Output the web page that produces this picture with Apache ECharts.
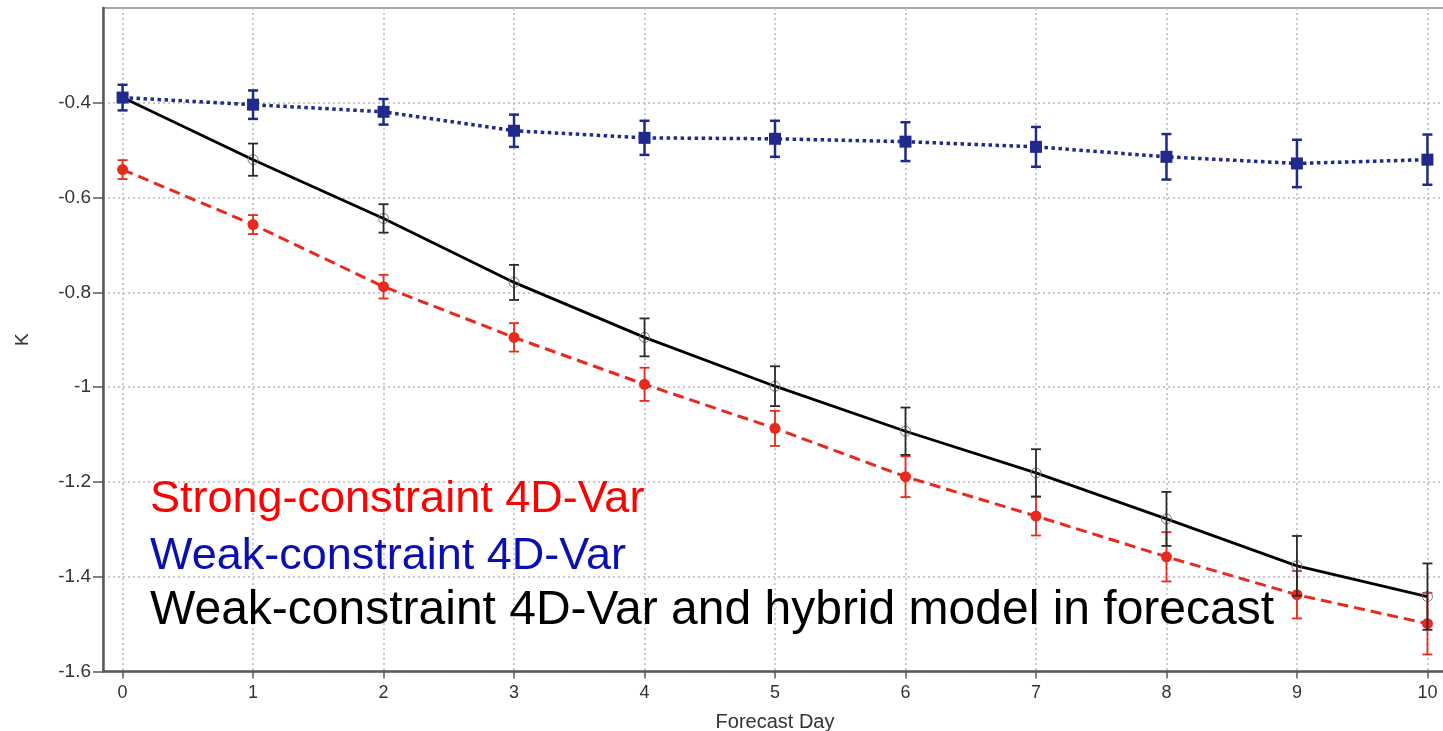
<!DOCTYPE html>
<html>
<head>
<meta charset="utf-8">
<script src="https://cdn.jsdelivr.net/npm/echarts@6/dist/echarts.min.js"></script>
<style>
html,body{margin:0;padding:0;background:#fff;}
#chart{width:1443px;height:731px;}
</style>
</head>
<body>
<div id="chart"></div>
<script>
// ---- data ----
const days = [0, 1, 2, 3, 4, 5, 6, 7, 8, 9, 10];
const xTicks = [0, 1, 2, 3, 4, 5, 6, 7, 8, 9, 10];
const yTicks = [-1.6, -1.4, -1.2, -1, -0.8, -0.6, -0.4];

const strongMean = [-0.541, -0.657, -0.788, -0.895, -0.994, -1.087, -1.189, -1.272, -1.358, -1.438, -1.499];
const strongErr  = [0.02, 0.02, 0.025, 0.03, 0.035, 0.037, 0.043, 0.041, 0.052, 0.05, 0.065];

const weakMean = [-0.389, -0.404, -0.419, -0.459, -0.474, -0.476, -0.482, -0.493, -0.514, -0.528, -0.52];
const weakErr  = [0.027, 0.03, 0.027, 0.034, 0.036, 0.038, 0.041, 0.042, 0.048, 0.05, 0.053];

const hybridMean = [-0.389, -0.52, -0.644, -0.779, -0.895, -0.998, -1.093, -1.181, -1.278, -1.377, -1.442];
const hybridErr  = [0, 0.034, 0.03, 0.037, 0.04, 0.042, 0.05, 0.05, 0.057, 0.063, 0.07];

const legendLabels = [
  'Strong-constraint 4D-Var',
  'Weak-constraint 4D-Var',
  'Weak-constraint 4D-Var and hybrid model in forecast'
];
const legendColors = ['#ff0000', '#0a0fb4', '#000000'];
const legendFontSizes = [45, 45, 48];

// ---- build ----
function pts(mean) { return days.map((d, i) => [d, mean[i]]); }
function bars(mean, err) { return days.map((d, i) => [d, mean[i] - err[i], mean[i] + err[i]]); }

function errorSeries(mean, err, color, width, capHalf, z) {
  return {
    type: 'custom',
    z: z,
    silent: true,
    data: bars(mean, err),
    encode: { x: 0, y: [1, 2] },
    renderItem: function (params, api) {
      const x = api.value(0);
      const lo = api.coord([x, api.value(1)]);
      const hi = api.coord([x, api.value(2)]);
      if (Math.abs(lo[1] - hi[1]) < 0.5) return null;
      const st = { stroke: color, lineWidth: width, fill: null };
      return {
        type: 'group',
        children: [
          { type: 'line', shape: { x1: lo[0], y1: lo[1], x2: hi[0], y2: hi[1] }, style: st },
          { type: 'line', shape: { x1: lo[0] - capHalf, y1: lo[1], x2: lo[0] + capHalf, y2: lo[1] }, style: st },
          { type: 'line', shape: { x1: hi[0] - capHalf, y1: hi[1], x2: hi[0] + capHalf, y2: hi[1] }, style: st }
        ]
      };
    }
  };
}

const FONT = "'Liberation Sans', Arial, Helvetica, sans-serif";
const chart = echarts.init(document.getElementById('chart'), null, { renderer: 'canvas' });

// baselines of legend rows in the picture: 515, 572, 628 -> top = baseline - 0.8465*fontSize
const legendBaselines = [515, 572, 628];

const option = {
  backgroundColor: '#ffffff',
  animation: false,
  grid: {
    left: 103, top: 8, bottom: 59.5, right: -4,
    containLabel: false,
    outerBoundsMode: 'none',
    show: true, borderColor: '#8a8a8a', borderWidth: 1.5, backgroundColor: 'transparent'
  },
  xAxis: {
    type: 'value',
    min: -0.15, max: 10.15,
    name: 'Forecast Day',
    nameLocation: 'middle',
    nameGap: 41,
    nameTextStyle: { fontFamily: FONT, fontSize: 20, color: '#333' },
    axisLine: { show: true, onZero: false, lineStyle: { color: '#5a5a5a', width: 2.5 } },
    axisTick: { show: true, customValues: xTicks, length: 7, lineStyle: { color: '#5a5a5a', width: 1.5 } },
    axisLabel: { customValues: xTicks, fontFamily: FONT, fontSize: 18, color: '#333', margin: 13 },
    splitLine: { show: true, lineStyle: { color: '#b8b8b8', width: 1.5, type: [2, 3] } }
  },
  yAxis: {
    type: 'value',
    min: -1.6, max: -0.2,
    name: 'K',
    nameLocation: 'middle',
    nameGap: 71,
    nameRotate: 90,
    nameTextStyle: { fontFamily: FONT, fontSize: 19, color: '#333' },
    axisLine: { show: true, onZero: false, lineStyle: { color: '#5a5a5a', width: 2.5 } },
    axisTick: { show: true, customValues: yTicks, length: 10, lineStyle: { color: '#5a5a5a', width: 1.5 } },
    axisLabel: { customValues: yTicks, fontFamily: FONT, fontSize: 19, color: '#333', margin: 12 },
    splitLine: { show: true, lineStyle: { color: '#b8b8b8', width: 1.5, type: [2, 3] } }
  },
  series: [
    errorSeries(strongMean, strongErr, '#e8291c', 1.8, 5, 3),
    {
      type: 'line', name: legendLabels[0], data: pts(strongMean), z: 4,
      symbol: 'circle', symbolSize: 11,
      itemStyle: { color: '#e8291c' },
      lineStyle: { color: '#e8291c', width: 3, type: [11, 6] }
    },
    errorSeries(hybridMean, hybridErr, '#2a2a2a', 1.8, 5, 6),
    {
      type: 'line', name: legendLabels[2], data: pts(hybridMean), z: 5,
      symbol: 'circle', symbolSize: 10,
      itemStyle: { color: 'rgba(255,255,255,0)', borderColor: '#777', borderWidth: 1 },
      lineStyle: { color: '#000000', width: 2.8 }
    },
    errorSeries(weakMean, weakErr, '#1f2a8c', 2.5, 5, 9),
    {
      type: 'line', name: legendLabels[1], data: pts(weakMean), z: 10,
      symbol: 'rect', symbolSize: 12,
      itemStyle: { color: '#1f2a8c' },
      lineStyle: { color: '#1f2a8c', width: 3.5, type: [3.5, 3.5] }
    }
  ],
  graphic: legendLabels.map((t, i) => ({
    type: 'text',
    left: 150,
    top: Math.round(legendBaselines[i] - 0.8465 * legendFontSizes[i]),
    z: 100,
    style: { text: t, fill: legendColors[i], font: legendFontSizes[i] + "px 'Liberation Sans', Arial, sans-serif" }
  }))
};
chart.setOption(option);
</script>
</body>
</html>
